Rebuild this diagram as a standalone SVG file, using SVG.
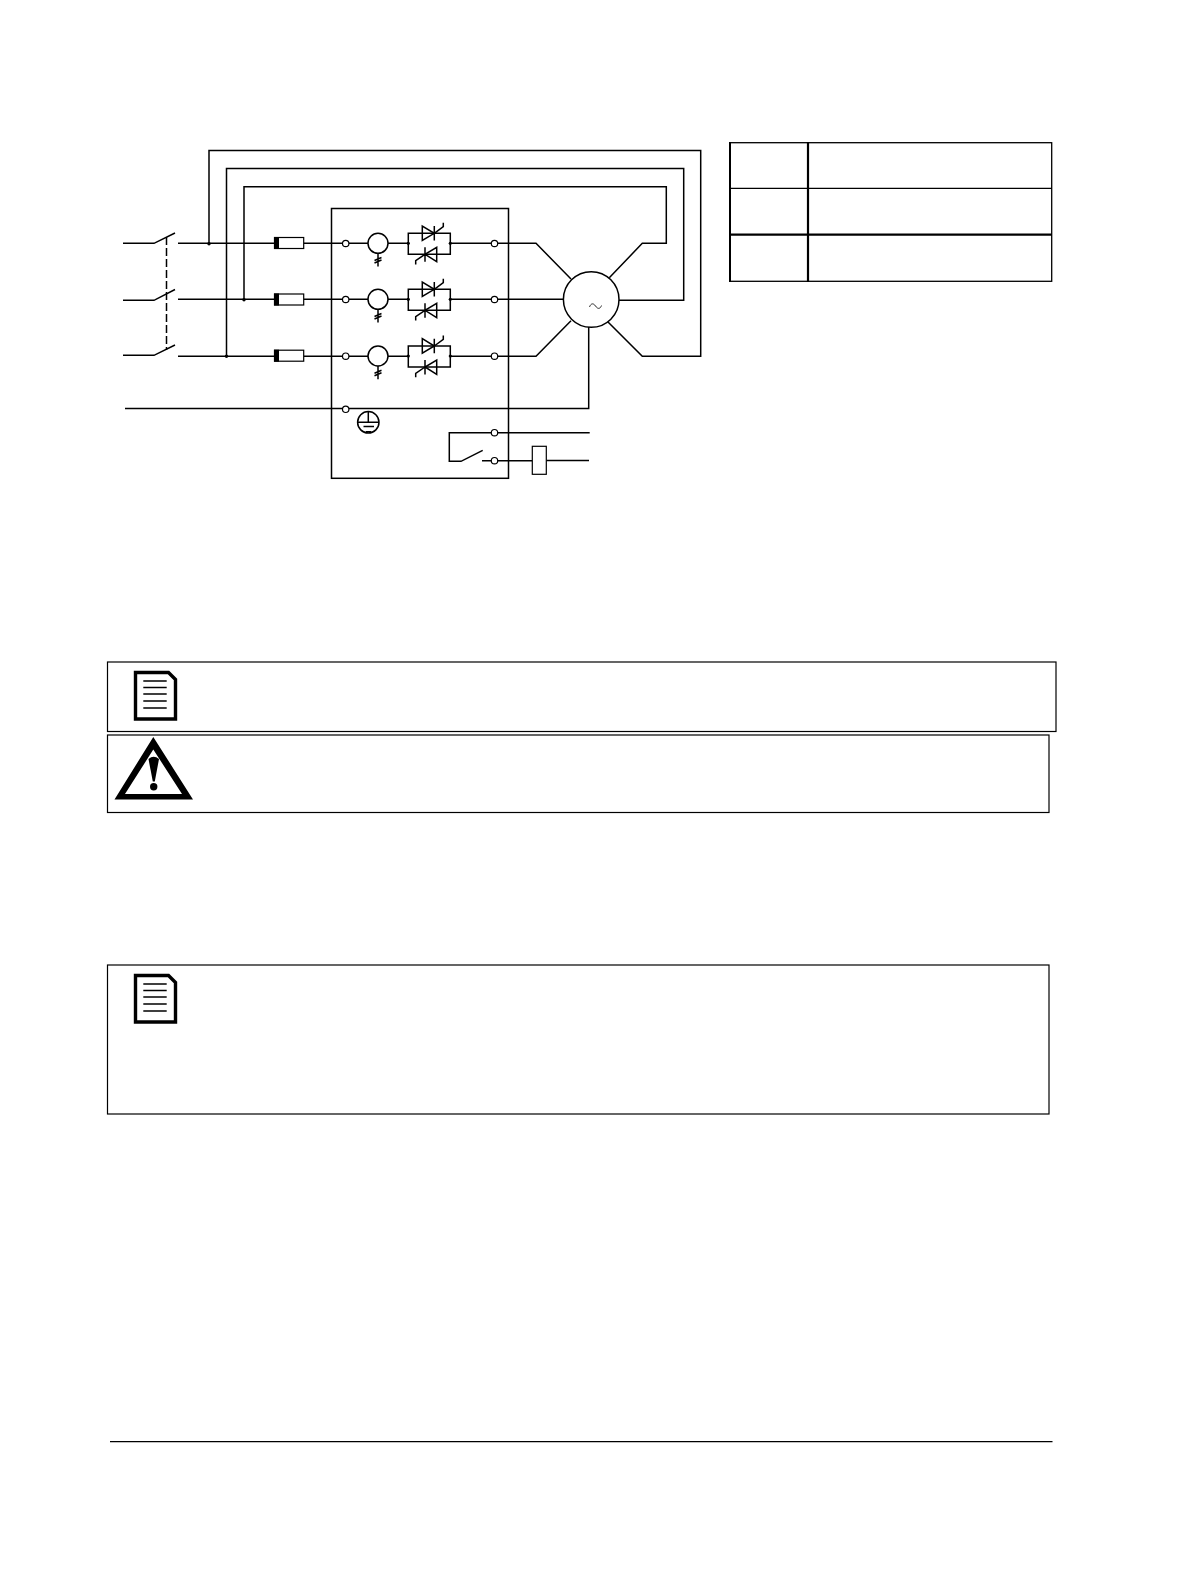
<svg xmlns="http://www.w3.org/2000/svg" xmlns:xlink="http://www.w3.org/1999/xlink" width="1191" height="1581" viewBox="0 0 1191 1581">
<style>
.w{fill:none;stroke:#000;stroke-width:1.5}
.t{fill:#fff;stroke:#000;stroke-width:1.2}
.f{fill:#000}
.b{fill:none;stroke:#000;stroke-width:1.2}
</style>
<defs>
<g id="phase">
<circle class="t" cx="345.7" cy="243.5" r="3.2"/>
<circle class="w" cx="378" cy="243.3" r="10"/>
<path class="w" d="M378 253.3V266.5M374.5 260.5L381.5 257.5M374.5 263L381.5 260"/>
<path class="w" d="M408.3 233.3H450.3V254.3H408.3Z"/>
<path class="w" d="M422.3 226V240.5L434.3 233.3ZM434.3 226V240.5M434.3 233.3L443.3 226.7V222.7"/>
<path class="w" d="M436.7 247.3V261.7L425 254.3ZM425 247.3V261.7M425 254.3L415.7 260.7V264.5"/>
<circle class="f" cx="408.3" cy="243.3" r="1.6"/>
<circle class="f" cx="450.3" cy="243.3" r="1.6"/>
<circle class="t" cx="494.5" cy="243.5" r="3.2"/>
</g>
<g id="fuse">
<rect x="274.5" y="237.5" width="29.2" height="11" fill="#fff" stroke="#000" stroke-width="1.2"/>
<rect x="274" y="237" width="5" height="12" fill="#000"/>
</g>
<g id="note">
<path d="M135.5 1.5H168.5L175.5 8.5V48H135.5Z" fill="#fff" stroke="#000" stroke-width="3.4"/>
<path fill="none" stroke="#000" stroke-width="1.7" d="M143.3 10H166.7M143.3 16.5H166.7M143.3 23H166.7M143.3 30H166.7M143.3 37H166.7"/>
</g>
</defs>

<g id="connectors">
<path class="w" d="M123 243.3H154L175 233M123 300.3H154L175 289.5M123 355.3H154L175 345"/>
<path class="w" stroke-dasharray="8 3" d="M166.5 237V350"/>
<path class="w" d="M178 243.3H274M178 299.3H274M178 356.3H274"/>
<path class="w" d="M303.7 243.3H368M388 243.3H408.3M450.3 243.3H536L571 279"/>
<path class="w" d="M303.7 299.3H368M388 299.3H408.3M450.3 299.3H563.3"/>
<path class="w" d="M303.7 356.3H368M388 356.3H408.3M450.3 356.3H536L571 320.7"/>
<path class="w" d="M209 243.5V150.5H700.7V356.3H642.3L608 322"/>
<path class="w" d="M226.5 356.3V168.6H683.7V300.3H619"/>
<path class="w" d="M244 299.8V186.8H666.3V243.3H642.3L609.3 277.7"/>
<path class="w" d="M125 408.5H588.7V327"/>
<path class="w" d="M589.7 432.7H449.3V461.3H461L482.7 450.3M482 460.7H532.3M546.3 460.5H589"/>
<circle class="f" cx="209" cy="243.7" r="1.7"/>
<circle class="f" cx="226.5" cy="356.3" r="1.7"/>
<circle class="f" cx="244" cy="299.8" r="1.7"/>
</g>

<g id="fuse-1"><use xlink:href="#fuse" href="#fuse"/></g>
<g id="fuse-2"><use xlink:href="#fuse" href="#fuse" y="56.5"/></g>
<g id="fuse-3"><use xlink:href="#fuse" href="#fuse" y="112.7"/></g>

<g id="starter">
<rect class="w" x="331.5" y="208.5" width="177" height="269.8"/>
</g>
<g id="phase-1"><use xlink:href="#phase" href="#phase"/></g>
<g id="phase-2"><use xlink:href="#phase" href="#phase" y="56"/></g>
<g id="phase-3"><use xlink:href="#phase" href="#phase" y="112.7"/></g>

<g id="earth">
<circle class="t" cx="345.7" cy="409.3" r="3.2"/>
<circle class="w" cx="368.3" cy="422.3" r="10.7"/>
<path class="w" d="M368.3 412V422.3M357.8 422.3H379M363.5 426.5H374M366 431.7H371"/>
</g>

<g id="aux-terminals">
<circle class="t" cx="494.5" cy="432.7" r="3.2"/>
<circle class="t" cx="494.5" cy="460.7" r="3.2"/>
</g>
<g id="coil"><rect class="t" x="532.3" y="446.3" width="14" height="28"/></g>

<g id="motor">
<circle class="w" cx="591.2" cy="299.5" r="27.8" fill="#fff"/>
<path fill="none" stroke="#000" stroke-width=".8" d="M589.5 307C591 303 593.5 303 595.5 306S600 309.5 601.5 305.5"/>
</g>

<g id="table">
<rect x="730" y="142.7" width="321.7" height="138.6" fill="none" stroke="#000" stroke-width="1.3"/>
<path d="M730 142V282" stroke="#000" stroke-width="2" fill="none"/>
<path d="M808 142V282" stroke="#000" stroke-width="2.2" fill="none"/>
<path d="M730 188.3H1052" stroke="#000" stroke-width="1.3" fill="none"/>
<path d="M730 234.7H1052" stroke="#000" stroke-width="2.2" fill="none"/>
</g>

<g id="note-box-1">
<rect class="b" x="107.5" y="662" width="948.5" height="69.5"/>
<use xlink:href="#note" href="#note" y="671"/>
</g>
<g id="warning-box">
<rect class="b" x="107.5" y="735" width="941.5" height="77.5"/>
<path fill="#000" fill-rule="evenodd" d="M153.3 737L193 799.5H114.5ZM153.3 749.5L125 794H182Z"/>
<path fill="#000" d="M148.5 759Q153.5 754.5 159 759L154.8 781.5H152.8Z"/>
<circle class="f" cx="153.7" cy="786.7" r="3.7"/>
</g>
<g id="note-box-2">
<rect class="b" x="107.5" y="965" width="941.5" height="149"/>
<use xlink:href="#note" href="#note" y="974"/>
</g>
<g id="footer"><path d="M110 1441.7H1052.5" fill="none" stroke="#000" stroke-width="1.2"/></g>
</svg>
